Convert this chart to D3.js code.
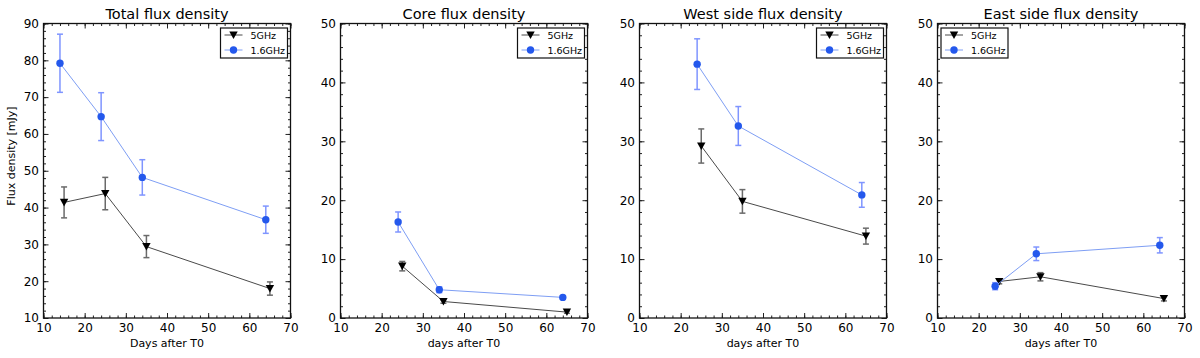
<!DOCTYPE html>
<html>
<head>
<meta charset="utf-8">
<script src="https://cdn.jsdelivr.net/npm/d3@7"></script>
<style>
  body { margin: 0; background: #fff; }
  svg { display: block; font-family: "DejaVu Sans", sans-serif; }
</style>
</head>
<body>
<svg id="chart" width="1200" height="358"></svg>
<script>
// panel titles and axis labels
const titles = ['Total flux density', 'Core flux density', 'West side flux density', 'East side flux density'];
const xLabels = ['Days after T0', 'days after T0', 'days after T0', 'days after T0'];
const yLabel = 'Flux density [mJy]';
const seriesNames = ['5GHz', '1.6GHz'];

// observation days
const days5 = [[15, 25, 35, 65], [25, 35, 65], [25, 35, 65], [25, 35, 65]];
const days16 = [[14, 24, 34, 64], [24, 34, 64], [24, 34, 64], [24, 34, 64]];

// 5 GHz flux and errors (mJy)
const flux5 = [[41.4, 43.8, 29.4, 18.0], [8.8, 2.8, 1.0], [29.2, 19.8, 13.9], [6.2, 7.0, 3.3]];
const err5 = [[4.2, 4.4, 3.0, 1.8], [0.8, 0.3, 0.2], [2.9, 2.0, 1.35], [0.4, 0.7, 0.4]];

// 1.6 GHz flux and errors (mJy)
const flux16 = [[79.2, 64.7, 48.2, 36.7], [16.3, 4.8, 3.5], [43.1, 32.6, 20.9], [5.4, 10.9, 12.35]];
const err16 = [[7.9, 6.5, 4.8, 3.7], [1.7, 0.5, 0.3], [4.3, 3.3, 2.1], [0.6, 1.15, 1.3]];

// axis ranges and ticks
const xDomain = [10, 70];
const xTicks = [10, 20, 30, 40, 50, 60, 70];
const yDomains = [[10, 90], [0, 50], [0, 50], [0, 50]];
const yTicks = [[10, 20, 30, 40, 50, 60, 70, 80, 90], [0, 10, 20, 30, 40, 50], [0, 10, 20, 30, 40, 50], [0, 10, 20, 30, 40, 50]];
const legendSide = ['right', 'right', 'right', 'left'];

const svg = d3.select('#chart');

const LEFTS = [43.5, 340.5, 639.5, 937.5];
const W = 247;
const TOP = 23.5;
const BOTTOM = 318;
const H = BOTTOM - TOP;

const C5 = '#000000';
const C5_LINE = '#4a4a4a';
const C5_ERR = '#6a6a6a';
const C16 = '#2458ec';
const C16_LINE = '#7e9ef4';
const C16_ERR = '#7f95ff';

function minorRange(d) {
  return d3.range(d[0], d[1] + 0.001, 2);
}

titles.forEach((title, p) => {
  const g = svg.append('g').attr('transform', `translate(${LEFTS[p]},${TOP})`);
  const x = d3.scaleLinear().domain(xDomain).range([0, W]);
  const y = d3.scaleLinear().domain(yDomains[p]).range([H, 0]);

  // minor ticks (all four sides)
  const xm = minorRange(xDomain);
  const ym = minorRange(yDomains[p]);
  g.append('g').attr('transform', `translate(0,${H})`)
    .call(d3.axisBottom(x).tickValues(xm).tickSize(-2.5).tickFormat(''));
  g.append('g')
    .call(d3.axisTop(x).tickValues(xm).tickSize(-2.5).tickFormat(''));
  g.append('g')
    .call(d3.axisLeft(y).tickValues(ym).tickSize(-2.5).tickFormat(''));
  g.append('g').attr('transform', `translate(${W},0)`)
    .call(d3.axisRight(y).tickValues(ym).tickSize(-2.5).tickFormat(''));

  // major ticks
  g.append('g').attr('class', 'xaxis').attr('transform', `translate(0,${H})`)
    .call(d3.axisBottom(x).tickValues(xTicks).tickSize(-5).tickPadding(5.5));
  g.append('g')
    .call(d3.axisTop(x).tickValues(xTicks).tickSize(-5).tickFormat(''));
  g.append('g').attr('class', 'yaxis')
    .call(d3.axisLeft(y).tickValues(yTicks[p]).tickSize(-5).tickPadding(4.5));
  g.append('g').attr('transform', `translate(${W},0)`)
    .call(d3.axisRight(y).tickValues(yTicks[p]).tickSize(-5).tickFormat(''));

  g.selectAll('.domain').remove();
  g.selectAll('.tick line').attr('stroke', '#222').attr('stroke-width', 1);
  g.selectAll('.tick text').attr('font-family', '"DejaVu Sans", sans-serif')
    .attr('font-size', 12).attr('fill', '#000');

  // frame
  g.append('rect').attr('width', W).attr('height', H)
    .attr('fill', 'none').attr('stroke', '#111').attr('stroke-width', 1.3);

  // title and x label
  g.append('text').attr('x', W / 2).attr('y', -5).attr('text-anchor', 'middle')
    .attr('font-size', 14.5).text(title);
  g.append('text').attr('x', W / 2).attr('y', H + 29).attr('text-anchor', 'middle')
    .attr('font-size', 11).text(xLabels[p]);

  if (p === 0) {
    svg.append('text')
      .attr('transform', `translate(15,156) rotate(-90)`)
      .attr('text-anchor', 'middle').attr('font-size', 11).text(yLabel);
  }

  const series = [
    { xs: days5[p], ys: flux5[p], es: err5[p], line: C5_LINE, err: C5_ERR, mark: C5, shape: 'tri' },
    { xs: days16[p], ys: flux16[p], es: err16[p], line: C16_LINE, err: C16_ERR, mark: C16, shape: 'dot' },
  ];

  const lineGen = d3.line().x((d) => x(d[0])).y((d) => y(d[1]));
  const plot = g.append('g');

  series.forEach((s) => {
    const pts = s.xs.map((v, i) => [v, s.ys[i], s.es[i]]);
    plot.append('path').datum(pts).attr('d', lineGen)
      .attr('fill', 'none').attr('stroke', s.line).attr('stroke-width', 1);

    const eb = plot.append('g').attr('stroke', s.err).attr('stroke-width', 1.5);
    pts.forEach((d) => {
      const cx = x(d[0]);
      const y1 = y(d[1] + d[2]);
      const y0 = y(d[1] - d[2]);
      eb.append('line').attr('x1', cx).attr('x2', cx).attr('y1', y1).attr('y2', y0);
      eb.append('line').attr('x1', cx - 3).attr('x2', cx + 3).attr('y1', y1).attr('y2', y1);
      eb.append('line').attr('x1', cx - 3).attr('x2', cx + 3).attr('y1', y0).attr('y2', y0);
    });

    pts.forEach((d) => {
      drawMarker(plot, s.shape, x(d[0]), y(d[1]), s.mark);
    });
  });

  // legend
  const lw = 67;
  const lh = 30;
  const lx = legendSide[p] === 'right' ? W - lw - 3 : 3.5;
  const ly = 4.5;
  const lg = g.append('g').attr('transform', `translate(${lx},${ly})`);
  lg.append('rect').attr('width', lw).attr('height', lh)
    .attr('fill', '#fff').attr('stroke', '#111').attr('stroke-width', 1.2);
  series.forEach((s, i) => {
    const ry = 7 + i * 15;
    lg.append('line').attr('x1', 4).attr('x2', 22).attr('y1', ry).attr('y2', ry)
      .attr('stroke', s.line).attr('stroke-width', 1);
    drawMarker(lg, s.shape, 13, ry, s.mark);
    lg.append('text').attr('x', 30).attr('y', ry + 3.5)
      .attr('font-size', 9.5).text(seriesNames[i]);
  });
});

function drawMarker(sel, shape, cx, cy, color) {
  if (shape === 'tri') {
    const r = 4.2;
    sel.append('path')
      .attr('d', `M${cx - r},${cy - r * 0.85}L${cx + r},${cy - r * 0.85}L${cx},${cy + r * 0.95}Z`)
      .attr('fill', color);
  } else {
    sel.append('circle').attr('cx', cx).attr('cy', cy).attr('r', 3.7).attr('fill', color);
  }
}
</script>
</body>
</html>
